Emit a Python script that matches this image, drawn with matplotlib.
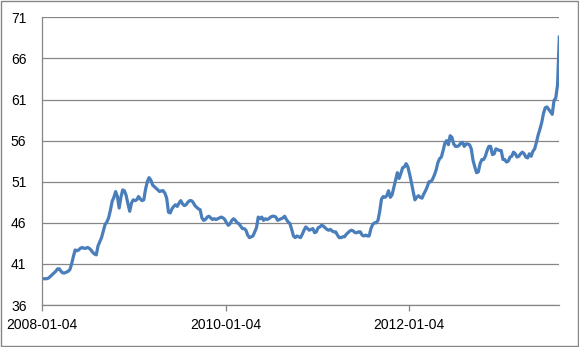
# ____________________________________________________________
# import modules

import pandas as pd
import matplotlib
matplotlib.use('Agg')
import matplotlib.pyplot as plt
import matplotlib.dates as mdates
from matplotlib.patches import Rectangle


# ____________________________________________________________
# data (weekly)

start_date = '2008-01-04'

values = [
    39.2, 39.2, 39.2, 39.2, 39.3, 39.5, 39.7, 39.9, 40.1, 40.4,
    40.4, 40.1, 39.9, 39.9, 40.0, 40.1, 40.3, 41.0, 41.9, 42.7,
    42.6, 42.7, 42.9, 43.0, 42.9, 42.9, 43.0, 42.9, 42.7, 42.4,
    42.2, 42.1, 43.2, 43.7, 44.2, 45.0, 45.8, 46.1, 46.6, 47.5,
    48.6, 49.1, 49.8, 49.2, 47.8, 49.1, 50.0, 49.9, 49.3, 48.3,
    47.4, 48.4, 48.8, 48.7, 48.8, 49.2, 48.9, 48.7, 48.8, 50.1,
    51.0, 51.5, 51.2, 50.6, 50.4, 50.2, 50.0, 49.8, 49.9, 49.9,
    49.6, 49.0, 47.3, 47.2, 47.7, 48.0, 48.2, 48.0, 48.4, 48.7,
    48.3, 48.1, 48.2, 48.5, 48.7, 48.7, 48.5, 48.1, 47.9, 47.7,
    47.6, 46.6, 46.3, 46.4, 46.7, 46.8, 46.6, 46.4, 46.5, 46.4,
    46.5, 46.6, 46.7, 46.6, 46.4, 46.0, 45.7, 45.9, 46.3, 46.5,
    46.3, 46.0, 45.9, 45.6, 45.3, 45.3, 45.1, 44.5, 44.2, 44.3,
    44.4, 44.9, 45.4, 46.7, 46.5, 46.7, 46.3, 46.5, 46.4, 46.5,
    46.7, 46.8, 46.8, 46.7, 46.3, 46.4, 46.5, 46.6, 46.8, 46.4,
    46.1, 45.9, 45.2, 44.4, 44.2, 44.4, 44.3, 44.2, 44.6, 45.1,
    45.5, 45.3, 45.1, 45.2, 45.3, 44.8, 44.9, 45.4, 45.5, 45.7,
    45.6, 45.4, 45.2, 45.1, 45.2, 45.0, 44.9, 44.9, 44.5, 44.2,
    44.2, 44.3, 44.3, 44.6, 44.8, 45.0, 45.1, 45.0, 44.8, 44.8,
    44.9, 44.9, 44.5, 44.4, 44.5, 44.4, 44.4, 45.3, 45.8, 46.0,
    46.0, 46.3, 47.4, 48.9, 49.2, 49.1, 49.3, 49.9, 49.1, 49.4,
    50.3, 51.2, 52.1, 51.4, 52.0, 52.7, 52.8, 53.2, 52.8, 51.9,
    50.9, 49.8, 48.8, 49.1, 49.3, 49.1, 49.0, 49.5, 49.9, 50.4,
    51.0, 51.0, 51.3, 51.8, 52.4, 53.3, 53.8, 54.0, 54.8, 55.7,
    56.0, 55.5, 56.6, 56.4, 55.6, 55.3, 55.3, 55.4, 55.7, 55.8,
    55.3, 55.6, 55.6, 55.5, 55.0, 53.6, 52.8, 52.1, 52.2, 53.2,
    53.7, 53.7, 54.1, 54.8, 55.3, 55.3, 54.3, 54.4, 55.0, 54.9,
    54.8, 54.8, 53.7, 53.7, 53.4, 53.5, 54.0, 54.1, 54.6, 54.4,
    54.0, 54.1, 54.4, 54.6, 54.4, 54.0, 53.9, 54.4, 54.1, 54.7,
    55.0, 55.8, 56.7, 57.4, 58.2, 59.3, 60.0, 60.1, 59.8, 59.5,
    59.2, 60.9, 61.2, 62.8, 68.6,
]

tick_dates = ['2008-01-04', '2010-01-04', '2012-01-04']
y_ticks = [36, 41, 46, 51, 56, 61, 66, 71]

dates = pd.date_range(start_date, periods=len(values), freq='7D')


# ____________________________________________________________
# plot

plt.rcParams['font.family'] = ['Liberation Sans', 'DejaVu Sans']

fig = plt.figure(figsize=(5.79, 3.47), dpi=100)
ax = fig.add_axes([0.072, 0.121, 0.894, 0.829])

ax.plot(dates, values, color='#4A7EBB', lw=2.3, solid_joinstyle='round')

ax.set_ylim(36, 71)
ax.set_yticks(y_ticks)
ax.set_xlim(dates[0], dates[-1])
ax.set_xticks(pd.to_datetime(tick_dates))
ax.xaxis.set_major_formatter(mdates.DateFormatter('%Y-%m-%d'))

ax.grid(axis='y', color='#868686', lw=0.9)
ax.set_axisbelow(True)
for s in ['top', 'right']:
    ax.spines[s].set_visible(False)
for s in ['left', 'bottom']:
    ax.spines[s].set_color('#868686')
    ax.spines[s].set_linewidth(0.9)

ax.tick_params(axis='y', length=0, pad=11, labelsize=10)
ax.tick_params(axis='x', length=4.5, width=0.9, color='#868686',
               pad=5, labelsize=10)

# chart area border
fig.patches.append(Rectangle((0.001, 0.002), 0.997, 0.995, transform=fig.transFigure,
                             fill=False, edgecolor='#868686', lw=1))

fig.savefig('out.png', dpi=100)
